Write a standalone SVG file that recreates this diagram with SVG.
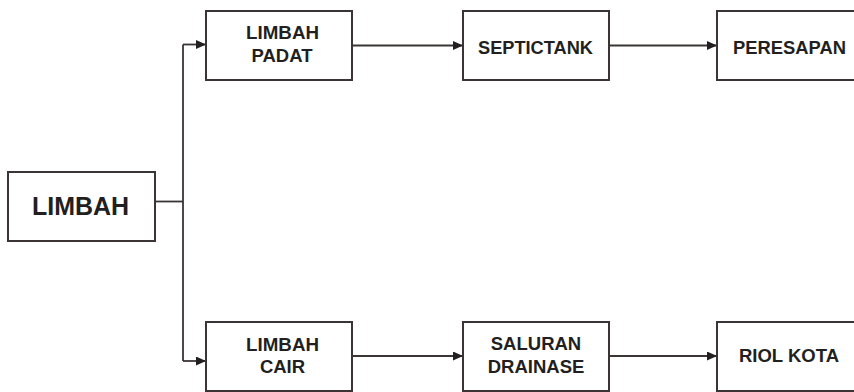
<svg xmlns="http://www.w3.org/2000/svg" width="854" height="392" viewBox="0 0 854 392">
  <defs>
    <marker id="arrow" viewBox="0 0 10 9" refX="10" refY="4.5" markerWidth="10" markerHeight="9" markerUnits="userSpaceOnUse" orient="auto">
      <path d="M0,0 L10,4.5 L0,9 Z" fill="#231f20"/>
    </marker>
  </defs>
  <style>
    .box { fill: #ffffff; stroke: #3a3435; stroke-width: 2; }
    .label { font-family: "Liberation Sans", Arial, sans-serif; font-weight: bold; fill: #231f20; text-anchor: middle; }
    .sm { font-size: 18.5px; }
    .lg { font-size: 26px; }
    .wire { fill: none; stroke: #3a3435; stroke-width: 1.8; }
  </style>
  <rect width="854" height="392" fill="#ffffff"/>

  <g id="connectors">
    <path class="wire" d="M155,201.5 H183"/>
    <path class="wire" d="M183,44.5 V361"/>
    <path class="wire" d="M183,44.5 H206" marker-end="url(#arrow)"/>
    <path class="wire" d="M183,361 H206" marker-end="url(#arrow)"/>
    <path class="wire" d="M352,45.5 H463" marker-end="url(#arrow)"/>
    <path class="wire" d="M609,45.5 H717" marker-end="url(#arrow)"/>
    <path class="wire" d="M352,356 H463" marker-end="url(#arrow)"/>
    <path class="wire" d="M609,356 H717" marker-end="url(#arrow)"/>
  </g>

  <g id="limbah">
    <rect class="box" x="8" y="172" width="147" height="69"/>
    <text class="label lg" x="80.5" y="215" textLength="97" lengthAdjust="spacingAndGlyphs">LIMBAH</text>
  </g>

  <g id="limbah-padat">
    <rect class="box" x="206" y="11" width="146" height="69"/>
    <text class="label sm" x="282.5" y="39" textLength="73" lengthAdjust="spacingAndGlyphs">LIMBAH</text>
    <text class="label sm" x="282" y="62">PADAT</text>
  </g>

  <g id="septictank">
    <rect class="box" x="463" y="11" width="146" height="69"/>
    <text class="label sm" x="535.5" y="54" textLength="115" lengthAdjust="spacingAndGlyphs">SEPTICTANK</text>
  </g>

  <g id="peresapan">
    <rect class="box" x="717" y="11" width="146" height="69"/>
    <text class="label sm" x="789.5" y="54" textLength="113" lengthAdjust="spacingAndGlyphs">PERESAPAN</text>
  </g>

  <g id="limbah-cair">
    <rect class="box" x="206" y="322" width="146" height="69"/>
    <text class="label sm" x="282.5" y="351" textLength="73" lengthAdjust="spacingAndGlyphs">LIMBAH</text>
    <text class="label sm" x="282.5" y="373">CAIR</text>
  </g>

  <g id="saluran-drainase">
    <rect class="box" x="463" y="322" width="146" height="69"/>
    <text class="label sm" x="536" y="350">SALURAN</text>
    <text class="label sm" x="536" y="372.5">DRAINASE</text>
  </g>

  <g id="riol-kota">
    <rect class="box" x="717" y="322" width="146" height="69"/>
    <text class="label sm" x="789" y="361.5" textLength="100" lengthAdjust="spacingAndGlyphs">RIOL KOTA</text>
  </g>
</svg>
